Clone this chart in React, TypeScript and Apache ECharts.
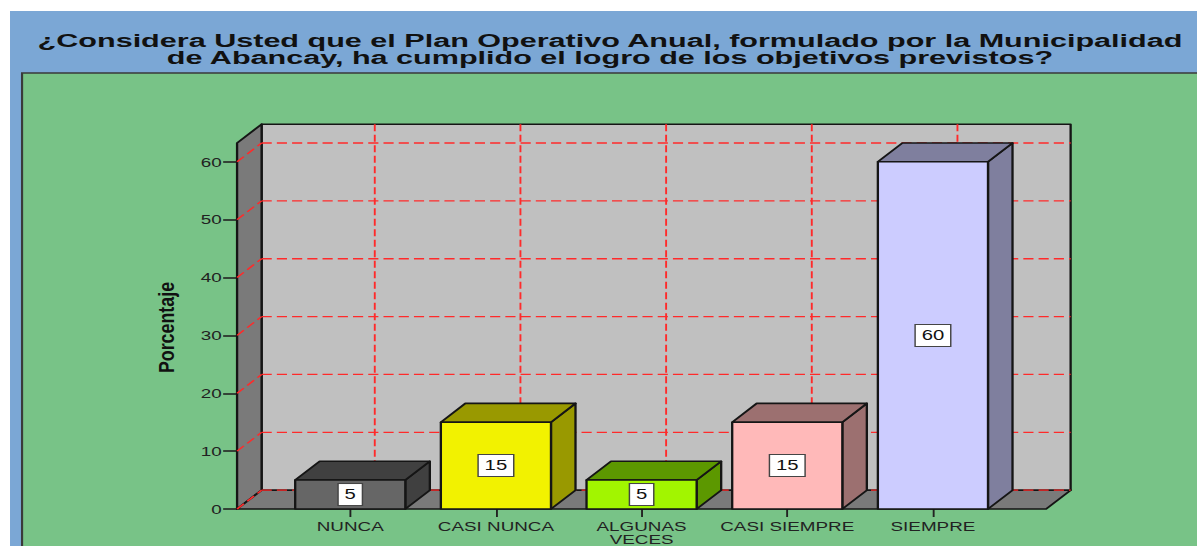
import React, { useEffect, useRef } from "react";
import * as echarts from "echarts";

// ---- data ----
const CATEGORIES = ["NUNCA", "CASI NUNCA", "ALGUNAS VECES", "CASI SIEMPRE", "SIEMPRE"];
const PERCENTAGES = [5, 15, 5, 15, 60];
const Y_TICKS = [0, 10, 20, 30, 40, 50, 60];
const TITLE_LINES = [
  "¿Considera Usted que el Plan Operativo Anual, formulado por la Municipalidad",
  "de Abancay, ha cumplido el logro de los objetivos previstos?",
];
const Y_NAME = "Porcentaje";

// ---- styles ----
const FRONT_COLORS = ["#666666", "#f2f200", "#a2f500", "#ffb9b9", "#ccccff"];
const SHADE_COLORS = ["#404040", "#999900", "#5c9800", "#9c7070", "#7f7f9e"];

const W = 1197;
const H = 546;
const CW = 825;
const SX = W / CW;

const DX = 16.9;
const DY = -18.8;
const SIDE_PAD = 27.8;
const WALL_TOP = 63.25;
const EDGE = { stroke: "#151515", lineWidth: 1.6, lineJoin: "round" };
const GRID_STYLE = { stroke: "#ff2a2a", lineWidth: 1.3, lineDash: [7, 3.5] };
const FONT = "Liberation Sans, Arial, sans-serif";

function renderFrame(params: any, api: any) {
  const band = api.size([1, 0])[0];
  const c0 = api.coord([0, 0]);
  const cN = api.coord([CATEGORIES.length - 1, 0]);
  const xL = c0[0] - band / 2 - SIDE_PAD;
  const xR = cN[0] + band / 2 + SIDE_PAD;
  const y0 = c0[1];
  const yT = api.coord([0, WALL_TOP])[1];
  const children: any[] = [];
  children.push({
    type: "polygon",
    shape: { points: [[xL + DX, yT + DY], [xR + DX, yT + DY], [xR + DX, y0 + DY], [xL + DX, y0 + DY]] },
    style: { fill: "#c0c0c0", ...EDGE },
  });
  children.push({
    type: "polygon",
    shape: { points: [[xL, y0], [xL, yT], [xL + DX, yT + DY], [xL + DX, y0 + DY]] },
    style: { fill: "#7a7a7a", ...EDGE },
  });
  children.push({
    type: "polygon",
    shape: { points: [[xL, y0], [xR, y0], [xR + DX, y0 + DY], [xL + DX, y0 + DY]] },
    style: { fill: "#7a7a7a", ...EDGE },
  });
  Y_TICKS.forEach((t) => {
    const y = api.coord([0, t])[1];
    children.push({ type: "line", shape: { x1: xL + DX, y1: y + DY, x2: xR + DX, y2: y + DY }, style: GRID_STYLE });
    children.push({ type: "line", shape: { x1: xL, y1: y, x2: xL + DX, y2: y + DY }, style: GRID_STYLE });
  });
  CATEGORIES.forEach((_, i) => {
    const x = api.coord([i, 0])[0] + DX;
    children.push({ type: "line", shape: { x1: x, y1: yT + DY, x2: x, y2: y0 + DY }, style: GRID_STYLE });
  });
  return { type: "group", children };
}

function renderBar(params: any, api: any) {
  const i = api.value(0);
  const v = api.value(1);
  const top = api.coord([i, v]);
  const cx = top[0];
  const yTop = top[1];
  const y0 = api.coord([i, 0])[1];
  const bw = api.size([1, 0])[0] * 0.756;
  const x0 = cx - bw / 2;
  const x1 = cx + bw / 2;
  return {
    type: "group",
    children: [
      {
        type: "polygon",
        shape: { points: [[x1, y0], [x1, yTop], [x1 + DX, yTop + DY], [x1 + DX, y0 + DY]] },
        style: { fill: SHADE_COLORS[i], ...EDGE },
      },
      {
        type: "polygon",
        shape: { points: [[x0, yTop], [x1, yTop], [x1 + DX, yTop + DY], [x0 + DX, yTop + DY]] },
        style: { fill: SHADE_COLORS[i], ...EDGE },
      },
      {
        type: "rect",
        shape: { x: x0, y: yTop, width: bw, height: y0 - yTop },
        style: { fill: FRONT_COLORS[i], ...EDGE },
      },
      {
        type: "text",
        x: cx,
        y: (yTop + y0) / 2,
        style: {
          text: String(v),
          align: "center",
          verticalAlign: "middle",
          fontSize: 14,
          fontFamily: FONT,
          fill: "#111",
          backgroundColor: "#ffffff",
          borderColor: "#444",
          borderWidth: 1,
          padding: [4, 4, 3, 4],
        },
      },
    ],
  };
}

const titleText = (text: string, y: number) => ({
  type: "text",
  x: 420.4,
  y,
  scaleX: 1.109,
  scaleY: 0.93,
  z: 10,
  style: {
    text,
    align: "center",
    verticalAlign: "middle",
    fontSize: 19,
    fontWeight: "bold",
    fontFamily: FONT,
    fill: "#111",
  },
});

export default function App() {
  const ref = useRef<HTMLDivElement>(null);
  useEffect(() => {
    document.body.style.margin = "0";
    document.body.style.overflow = "hidden";
    const chart = echarts.init(ref.current!, null, { renderer: "svg", width: CW, height: H });
    const option: any = {
      animation: false,
      backgroundColor: "#ffffff",
      graphic: [
        { type: "rect", z: -10, shape: { x: 6.9, y: 11, width: CW, height: H }, style: { fill: "#7ba7d5" } },
        { type: "rect", z: -9, shape: { x: 15.2, y: 73, width: CW, height: H }, style: { fill: "#78c387" } },
        {
          type: "polyline",
          z: -8,
          shape: { points: [[15.2, H], [15.2, 73], [CW, 73]] },
          style: { stroke: "#3a3a3a", lineWidth: 1.5, fill: "none" },
        },
        titleText(TITLE_LINES[0], 40.5),
        titleText(TITLE_LINES[1], 58.1),
        {
          type: "text",
          x: 114.5,
          y: 327.5,
          rotation: Math.PI / 2,
          scaleX: 1.19,
          style: {
            text: Y_NAME,
            align: "center",
            verticalAlign: "middle",
            fontSize: 15,
            fontWeight: "bold",
            fontFamily: FONT,
            fill: "#111",
          },
        },
      ],
      grid: { left: 191.2, width: 502, top: 161.8, height: 350.2, containLabel: false },
      xAxis: {
        type: "category",
        data: CATEGORIES,
        boundaryGap: true,
        axisLine: { show: false },
        axisTick: { show: true, alignWithLabel: true, length: 8, lineStyle: { color: "#222", width: 1.3 } },
        axisLabel: {
          margin: 11,
          fontSize: 13,
          lineHeight: 13,
          fontFamily: FONT,
          color: "#222",
          interval: 0,
          formatter: (v: string) => (v === "ALGUNAS VECES" ? "ALGUNAS\nVECES" : v),
        },
        splitLine: { show: false },
      },
      yAxis: {
        type: "value",
        min: 0,
        max: 60,
        interval: 10,
        offset: 27.8,
        axisLine: { show: false },
        axisTick: { show: true, length: 9.6, lineStyle: { color: "#222", width: 1.6 } },
        axisLabel: { margin: 10.5, fontSize: 13, fontFamily: FONT, color: "#222" },
        splitLine: { show: false },
      },
      series: [
        {
          type: "custom",
          z: 1,
          renderItem: renderFrame,
          data: [[0, 0]],
          silent: true,
        },
        {
          type: "custom",
          z: 2,
          renderItem: renderBar,
          data: PERCENTAGES.map((v, i) => [i, v]),
        },
      ],
    };
    chart.setOption(option);
    return () => chart.dispose();
  }, []);
  return (
    <div style={{ width: W, height: H, overflow: "hidden" }}>
      <div ref={ref} style={{ width: CW, height: H, transform: `scaleX(${SX})`, transformOrigin: "0 0" }} />
    </div>
  );
}
